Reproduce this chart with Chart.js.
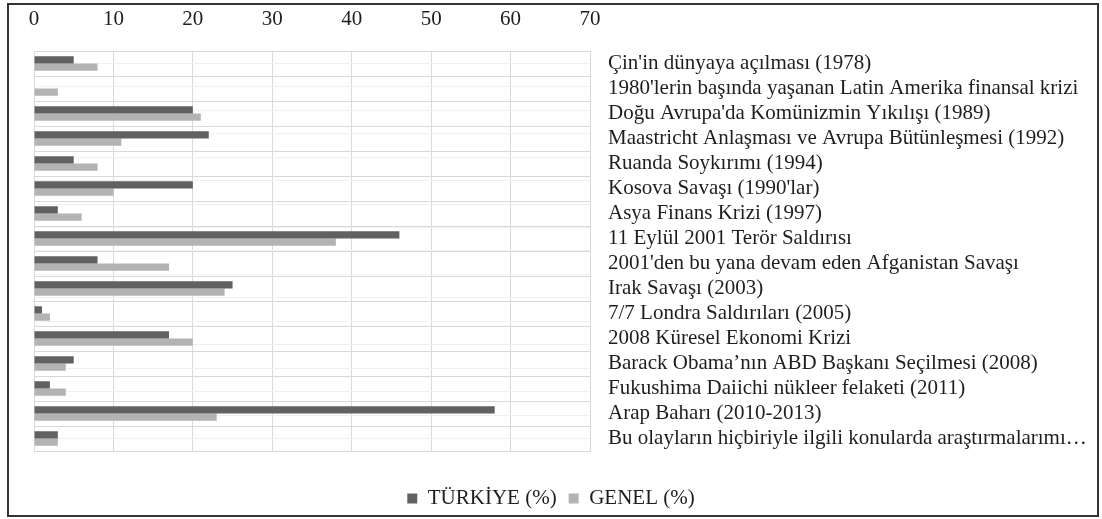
<!DOCTYPE html>
<html>
<head>
<meta charset="utf-8">
<script src="https://cdn.jsdelivr.net/npm/chart.js@4.4.1/dist/chart.umd.min.js"></script>
<style>
  html, body { margin: 0; padding: 0; background: #ffffff; }
  #wrap { position: relative; width: 1102px; height: 519px; }
  #frame { position: absolute; left: 7px; top: 3px; width: 1088px; height: 510px; border: 2px solid #333333; pointer-events: none; }
  canvas { position: absolute; left: 0; top: 0; }
</style>
</head>
<body>
<div id="wrap">
  <canvas id="c" width="1102" height="519"></canvas>
  <div id="frame"></div>
</div>
<script>
const categories = [
  "Çin'in dünyaya açılması (1978)",
  "1980'lerin başında yaşanan Latin Amerika finansal krizi",
  "Doğu Avrupa'da Komünizmin Yıkılışı (1989)",
  "Maastricht Anlaşması ve Avrupa Bütünleşmesi (1992)",
  "Ruanda Soykırımı (1994)",
  "Kosova Savaşı (1990'lar)",
  "Asya Finans Krizi (1997)",
  "11 Eylül 2001 Terör Saldırısı",
  "2001'den bu yana devam eden Afganistan Savaşı",
  "Irak Savaşı (2003)",
  "7/7 Londra Saldırıları (2005)",
  "2008 Küresel Ekonomi Krizi",
  "Barack Obama’nın ABD Başkanı Seçilmesi (2008)",
  "Fukushima Daiichi nükleer felaketi (2011)",
  "Arap Baharı (2010-2013)",
  "Bu olayların hiçbiriyle ilgili konularda araştırmalarımı…"
];
const turkiye = [5, 0, 20, 22, 5, 20, 3, 46, 8, 25, 1, 17, 5, 2, 58, 3];
const genel   = [8, 3, 21, 11, 8, 10, 6, 38, 17, 24, 2, 20, 4, 4, 23, 3];
const seriesNames = ["TÜRKİYE (%)", "GENEL (%)"];
const xTicks = [0, 10, 20, 30, 40, 50, 60, 70];

const FONT = "'Liberation Serif', 'Times New Roman', serif";
const W = 1102;

new Chart(document.getElementById('c'), {
  type: 'bar',
  data: {
    labels: categories,
    datasets: [
      { label: seriesNames[0], data: turkiye, backgroundColor: '#616161', borderWidth: 0,
        barPercentage: 1.0, categoryPercentage: 0.58, yAxisID: 'y' },
      { label: seriesNames[1], data: genel, backgroundColor: '#b3b3b3', borderWidth: 0,
        barPercentage: 1.0, categoryPercentage: 0.58, yAxisID: 'y' }
    ]
  },
  options: {
    indexAxis: 'y',
    responsive: false,
    animation: false,
    layout: { padding: { left: 0, right: 0, top: 0, bottom: 0 } },
    scales: {
      x: {
        type: 'linear',
        position: 'top',
        min: xTicks[0],
        max: xTicks[xTicks.length - 1],
        afterBuildTicks: s => { s.ticks = xTicks.map(v => ({ value: v })); },
        afterFit: s => { s.height = 51; },
        grid: { color: '#d9d9d9', lineWidth: 1, drawTicks: false },
        border: { display: true, color: '#d9d9d9' },
        ticks: { padding: 19, color: '#1e1e1e', font: { family: FONT, size: 21 } }
      },
      xs: {
        type: 'linear',
        position: 'bottom',
        display: true,
        min: 0, max: 70,
        afterFit: s => { s.height = 25; },
        grid: { display: false },
        border: { display: false },
        ticks: { display: false }
      },
      y: {
        type: 'category',
        position: 'right',
        offset: true,
        afterFit: s => { s.width = W - 590; },
        grid: { color: '#d9d9d9', lineWidth: 1, drawTicks: false, offset: true },
        border: { display: true, color: '#d9d9d9' },
        ticks: { padding: 18, color: '#1e1e1e', autoSkip: false, font: { family: FONT, size: 21 } }
      },
      ym: {
        type: 'linear',
        position: 'left',
        display: true,
        min: -0.5, max: 15.5,
        reverse: true,
        afterFit: s => { s.width = 34; },
        afterBuildTicks: s => { s.ticks = categories.map((c, i) => ({ value: i })); },
        grid: { color: '#f0f0f0', lineWidth: 1, drawTicks: false },
        border: { display: false },
        ticks: { display: false }
      }
    },
    plugins: {
      legend: {
        position: 'bottom',
        labels: { color: '#1e1e1e', boxWidth: 10, boxHeight: 10, padding: 12,
                  font: { family: FONT, size: 21 } }
      },
      tooltip: { enabled: false }
    }
  }
});
</script>
</body>
</html>
